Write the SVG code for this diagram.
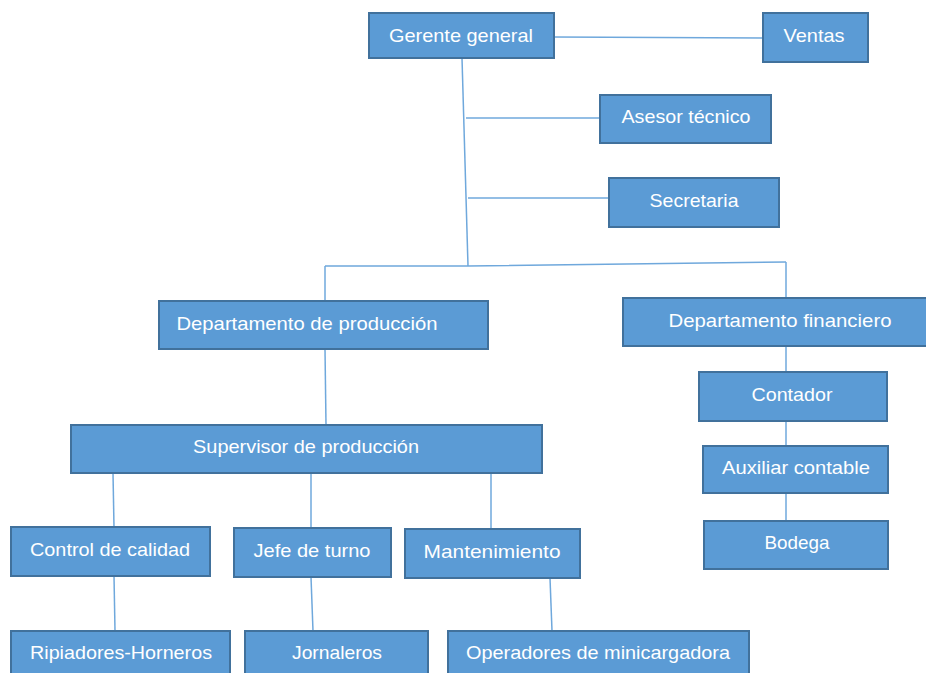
<svg xmlns="http://www.w3.org/2000/svg" width="926" height="673" viewBox="0 0 926 673">
<style>
.box{fill:#5B9BD5;stroke:#41719C;stroke-width:2}
.t{fill:#FFFFFF;font-family:"Liberation Sans",Arial,sans-serif;font-size:19px;text-anchor:middle}
.c{fill:none;stroke:#6FA8DC;stroke-width:1.5}
</style>
<rect width="926" height="673" fill="#FFFFFF"/>
<g id="connectors">
<path class="c" d="M554,37 L763,38"/>
<path class="c" d="M462,58 L468,266"/>
<path class="c" d="M466,118 L600,118"/>
<path class="c" d="M468,198 L609,198"/>
<path class="c" d="M325,266 L468,266 L786,262"/>
<path class="c" d="M325,266 L325,301"/>
<path class="c" d="M786,262 L786,298"/>
<path class="c" d="M325,349 L326,425"/>
<path class="c" d="M786,346 L786,372"/>
<path class="c" d="M786,421 L786,446"/>
<path class="c" d="M786,493 L786,521"/>
<path class="c" d="M113,473 L114,527"/>
<path class="c" d="M311,473 L311,528"/>
<path class="c" d="M491,473 L491,529"/>
<path class="c" d="M114,576 L115,631"/>
<path class="c" d="M311,577 L313,631"/>
<path class="c" d="M550,578 L552,631"/>
</g>
<g id="gerente"><rect class="box" x="369" y="13" width="185" height="45"/><text class="t" x="461" y="42" textLength="144" lengthAdjust="spacingAndGlyphs">Gerente general</text></g>
<g id="ventas"><rect class="box" x="763" y="13" width="105" height="49"/><text class="t" x="814" y="42" textLength="61" lengthAdjust="spacingAndGlyphs">Ventas</text></g>
<g id="asesor"><rect class="box" x="600" y="95" width="171" height="48"/><text class="t" x="686" y="123" textLength="129" lengthAdjust="spacingAndGlyphs">Asesor técnico</text></g>
<g id="secretaria"><rect class="box" x="609" y="178" width="170" height="49"/><text class="t" x="694" y="207" textLength="89" lengthAdjust="spacingAndGlyphs">Secretaria</text></g>
<g id="depto-produccion"><rect class="box" x="159" y="301" width="329" height="48"/><text class="t" x="307" y="330" textLength="261" lengthAdjust="spacingAndGlyphs">Departamento de producción</text></g>
<g id="depto-financiero"><rect class="box" x="623" y="298" width="306" height="48"/><text class="t" x="780" y="327" textLength="223" lengthAdjust="spacingAndGlyphs">Departamento financiero</text></g>
<g id="supervisor"><rect class="box" x="71" y="425" width="471" height="48"/><text class="t" x="306" y="453" textLength="226" lengthAdjust="spacingAndGlyphs">Supervisor de producción</text></g>
<g id="contador"><rect class="box" x="699" y="372" width="188" height="49"/><text class="t" x="792" y="401" textLength="81" lengthAdjust="spacingAndGlyphs">Contador</text></g>
<g id="auxiliar"><rect class="box" x="703" y="446" width="185" height="47"/><text class="t" x="796" y="474" textLength="148" lengthAdjust="spacingAndGlyphs">Auxiliar contable</text></g>
<g id="bodega"><rect class="box" x="704" y="521" width="184" height="48"/><text class="t" x="797" y="549" textLength="65" lengthAdjust="spacingAndGlyphs">Bodega</text></g>
<g id="control"><rect class="box" x="11" y="527" width="199" height="49"/><text class="t" x="110" y="556" textLength="160" lengthAdjust="spacingAndGlyphs">Control de calidad</text></g>
<g id="jefe"><rect class="box" x="234" y="528" width="157" height="49"/><text class="t" x="312" y="557" textLength="117" lengthAdjust="spacingAndGlyphs">Jefe de turno</text></g>
<g id="mantenimiento"><rect class="box" x="405" y="529" width="175" height="49"/><text class="t" x="492" y="558" textLength="137" lengthAdjust="spacingAndGlyphs">Mantenimiento</text></g>
<g id="ripiadores"><rect class="box" x="11" y="631" width="219" height="50"/><text class="t" x="121" y="659" textLength="182" lengthAdjust="spacingAndGlyphs">Ripiadores-Horneros</text></g>
<g id="jornaleros"><rect class="box" x="245" y="631" width="183" height="50"/><text class="t" x="337" y="659" textLength="90" lengthAdjust="spacingAndGlyphs">Jornaleros</text></g>
<g id="operadores"><rect class="box" x="448" y="631" width="301" height="50"/><text class="t" x="598" y="659" textLength="264" lengthAdjust="spacingAndGlyphs">Operadores de minicargadora</text></g>
</svg>
